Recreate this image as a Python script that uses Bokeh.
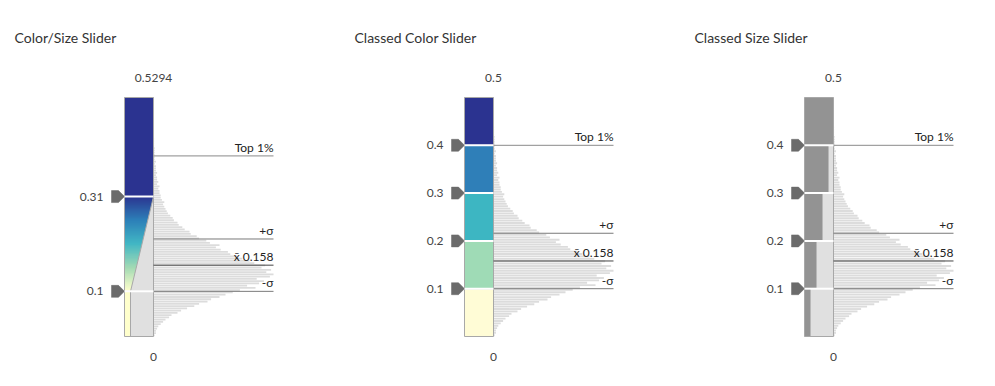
import numpy as np
from bokeh.plotting import figure
from bokeh.layouts import row
from bokeh.models import Range1d, Label, LinearColorMapper
from bokeh.embed import file_html
from bokeh.resources import INLINE
from bokeh.core.properties import value

# ---------------- data ----------------
titles = ["Color/Size Slider", "Classed Color Slider", "Classed Size Slider"]

bin_width = 0.005
hist_counts = [1, 2, 2, 3, 4, 6, 8, 10, 13, 15,
               20, 23, 28, 34, 38, 45, 48, 55, 60, 66,
               72, 85, 78, 88, 92, 86, 97, 100, 94, 98,
               90, 93, 84, 80, 74, 70, 64, 62, 56, 52,
               55, 47, 44, 38, 36, 31, 30, 26, 24, 21,
               20, 17, 16, 14, 12, 11, 10, 9, 8, 9,
               7, 6, 6, 5, 5, 4, 5, 3, 4, 3,
               3, 2, 3, 2, 2, 2, 1, 2, 1, 1,
               1, 1, 1, 1, 0.5, 0.5, 0.5, 0.5]
bin_lo = np.arange(len(hist_counts)) * bin_width

mean_val = 0.158
plus_sigma = 0.216
minus_sigma = 0.100
top1_val = 0.40

cs_max = 0.5294
cs_stops = [0.1, 0.31]
ramp_colors = ["#ffffcc", "#a1dab4", "#41b6c4", "#2c7fb8", "#2b3390"]

cls_max = 0.5
cls_breaks = [0.0, 0.1, 0.2, 0.3, 0.4, 0.5]
cls_colors = ["#fffcd6", "#9fdbb6", "#3db6c2", "#2f7fb8", "#2b3390"]
cls_sizes = [6, 12, 18, 24, 29]
size_min, size_max = 6, 29

# ---------------- layout (figure-local pixels) ----------------
WIDTHS = [340, 340, 300]
H = 372
SL, SR = 124, 153          # slider left / right
LINE_END = 273
Y0_PX, YTOP_PX = 336, 97   # pixel rows of value 0 and max
HIST_PX_PER_COUNT = 1.2
FONT = "Lato"
HIST_COLOR = "#dcdcdc"
BORDER = "#a8a8a8"
LIGHT = "#e0e0e0"
DARK = "#939393"
HANDLE = "#6b6b6b"


def lerp_palette(stops, n=256):
    rgb = [tuple(int(c[i:i + 2], 16) for i in (1, 3, 5)) for c in stops]
    out = []
    for j in range(n):
        t = j / (n - 1) * (len(rgb) - 1)
        i = min(int(t), len(rgb) - 2)
        f = t - i
        c = [round(rgb[i][m] + (rgb[i + 1][m] - rgb[i][m]) * f) for m in range(3)]
        out.append("#%02x%02x%02x" % tuple(c))
    return out


def base_figure(w, vmax):
    k = (Y0_PX - YTOP_PX) / vmax
    p = figure(width=w, height=H, output_backend="svg", toolbar_location=None,
               x_range=Range1d(0, w),
               y_range=Range1d(-(H - Y0_PX) / k, Y0_PX / k),
               min_border=0, min_border_left=0, min_border_right=0,
               min_border_top=0, min_border_bottom=0)
    p.axis.visible = False
    p.grid.visible = False
    p.outline_line_color = None
    p.background_fill_color = "white"
    p.border_fill_color = "white"
    p.extra_x_ranges = {"hist": Range1d(-SR / HIST_PX_PER_COUNT,
                                        (w - SR) / HIST_PX_PER_COUNT)}
    return p, k


def add_histogram(p):
    p.hbar(y=bin_lo + bin_width / 2, height=bin_width * 0.78, left=0,
           right=hist_counts, fill_color=HIST_COLOR, line_color=None,
           x_range_name="hist")


def add_stats(p):
    stats = [(top1_val, "Top 1%", "#8a8a8a"), (plus_sigma, "+σ", "#7a7a7a"),
             (mean_val, "x̄ 0.158", "#444444"), (minus_sigma, "-σ", "#7a7a7a")]
    for v, lab, col in stats:
        p.segment(x0=SR, x1=LINE_END, y0=v, y1=v, line_color=col, line_width=1)
        p.text(x=[LINE_END], y=[v], text=[lab], text_align="right",
               text_baseline="bottom", y_offset=-1, text_font=value(FONT),
               text_font_size="12px", text_color="#222222")


def add_title(p, t):
    p.add_layout(Label(x=14, y=H - 37, x_units="screen", y_units="screen",
                       text=t, text_font=FONT, text_font_size="14px",
                       text_color="#333333", text_baseline="middle"))


def add_end_labels(p, vmax, top_text):
    p.text(x=[SR], y=[vmax], text=[top_text], text_align="center",
           text_baseline="middle", y_offset=-20, text_font=value(FONT),
           text_font_size="12px", text_color="#444444")
    p.text(x=[SR], y=[0], text=["0"], text_align="center",
           text_baseline="middle", y_offset=20, text_font=value(FONT),
           text_font_size="12px", text_color="#444444")


def add_handles(p, k, vals, labels):
    d = 6 / k
    xs = [[SL - 13, SL - 6, SL, SL - 6, SL - 13] for _ in vals]
    ys = [[v + d, v + d, v, v - d, v - d] for v in vals]
    p.patches(xs, ys, fill_color=HANDLE, line_color=HANDLE, line_width=0.5)
    p.segment(x0=SL, x1=SR, y0=vals, y1=vals, line_color="white", line_width=2)
    p.text(x=[SL - 21] * len(vals), y=vals, text=labels, text_align="right",
           text_baseline="middle", text_font=value(FONT), text_font_size="12px",
           text_color="#444444")


# ---------------- panel 1: color/size ----------------
p1, k1 = base_figure(WIDTHS[0], cs_max)
add_title(p1, titles[0])
add_histogram(p1)
lo, hi = cs_stops
p1.quad(left=SL, right=SR, bottom=0, top=lo, fill_color=LIGHT, line_color=None)
p1.quad(left=SL, right=SL + size_min, bottom=0, top=lo, fill_color=ramp_colors[0],
        line_color=None)
p1.segment(x0=SL + size_min, x1=SL + size_min, y0=0, y1=lo, line_color=BORDER)
ramp = np.linspace(lo, hi, 200).reshape(200, 1)
mapper = LinearColorMapper(palette=lerp_palette(ramp_colors), low=lo, high=hi)
p1.image(image=[ramp], x=SL, y=lo, dw=SR - SL, dh=hi - lo, color_mapper=mapper)
p1.patch(x=[SL + size_min, SR, SR], y=[lo, lo, hi], fill_color=LIGHT,
         line_color=BORDER, line_width=1)
p1.quad(left=SL, right=SR, bottom=hi, top=cs_max, fill_color=ramp_colors[-1],
        line_color=None)
p1.quad(left=SL, right=SR, bottom=0, top=cs_max, fill_color=None,
        line_color=BORDER, line_width=1)
add_stats(p1)
add_handles(p1, k1, cs_stops, ["0.1", "0.31"])
add_end_labels(p1, cs_max, "0.5294")

# ---------------- panel 2: classed color ----------------
p2, k2 = base_figure(WIDTHS[1], cls_max)
add_title(p2, titles[1])
add_histogram(p2)
p2.quad(left=SL, right=SR, bottom=cls_breaks[:-1], top=cls_breaks[1:],
        fill_color=cls_colors, line_color=BORDER, line_width=1)
add_stats(p2)
add_handles(p2, k2, cls_breaks[1:-1], ["0.1", "0.2", "0.3", "0.4"])
add_end_labels(p2, cls_max, "0.5")

# ---------------- panel 3: classed size ----------------
p3, k3 = base_figure(WIDTHS[2], cls_max)
add_title(p3, titles[2])
add_histogram(p3)
p3.quad(left=SL, right=SR, bottom=cls_breaks[:-1], top=cls_breaks[1:],
        fill_color=LIGHT, line_color=None)
rights = [SL + s for s in cls_sizes]
p3.quad(left=SL, right=rights, bottom=cls_breaks[:-1], top=cls_breaks[1:],
        fill_color=DARK, line_color=None)
p3.segment(x0=rights[:-1], x1=rights[:-1], y0=cls_breaks[:-2], y1=cls_breaks[1:-1],
           line_color="#b8b8b8", line_width=1)
p3.quad(left=SL, right=SR, bottom=0, top=cls_max, fill_color=None,
        line_color=BORDER, line_width=1)
add_stats(p3)
add_handles(p3, k3, cls_breaks[1:-1], ["0.1", "0.2", "0.3", "0.4"])
add_end_labels(p3, cls_max, "0.5")

layout = row(p1, p2, p3, spacing=0)
open("out.html", "w").write(file_html(layout, INLINE))
